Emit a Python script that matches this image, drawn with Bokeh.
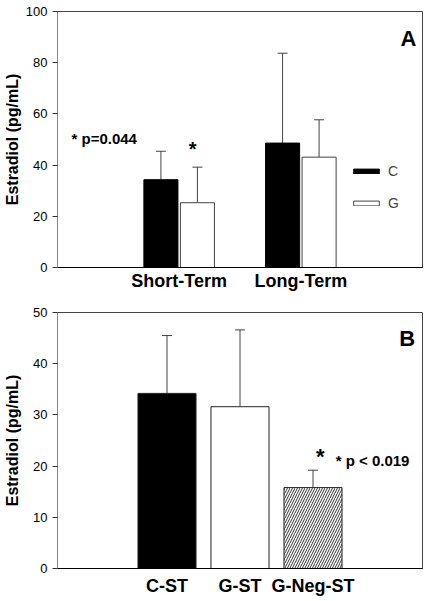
from bokeh.plotting import figure
from bokeh.models import (ColumnDataSource, FactorRange, Range1d, Whisker, TeeHead,
                          Legend, LegendItem, FixedTicker)
from bokeh.transform import dodge
from bokeh.layouts import column
from bokeh.core.properties import value
from bokeh.embed import file_html
from bokeh.resources import INLINE

FONT = "Liberation Sans"

# ---------------- data: panel A ----------------
terms = ["Short-Term", "Long-Term"]
c_mean = [34.3, 48.6]
c_sd = [11.1, 35.1]
g_mean = [25.3, 43.1]
g_sd = [13.9, 14.6]
a_ticks = [0, 20, 40, 60, 80, 100]

# ---------------- data: panel B ----------------
groups_b = ["C-ST", "G-ST", "G-Neg-ST"]
b_mean = [34.2, 31.6, 15.8]
b_sd = [11.3, 15.0, 3.4]
b_ticks = [0, 10, 20, 30, 40, 50]


def style(p, ticks, label_standoff, xlabel_standoff):
    p.outline_line_color = "#444444"
    p.outline_line_width = 1
    p.xgrid.visible = False
    p.ygrid.visible = False
    p.background_fill_color = "white"
    p.border_fill_color = "white"
    ya = p.yaxis[0]
    ya.ticker = FixedTicker(ticks=ticks)
    ya.axis_label = "Estradiol (pg/mL)"
    ya.axis_label_text_font = FONT
    ya.axis_label_text_font_style = "bold"
    ya.axis_label_text_font_size = "16px"
    ya.axis_label_text_color = "black"
    ya.axis_label_standoff = label_standoff
    ya.major_label_text_font = FONT
    ya.major_label_text_font_size = "13px"
    ya.major_label_text_color = "black"
    ya.major_label_standoff = 5
    ya.major_tick_in = 0
    ya.major_tick_out = 5
    ya.major_tick_line_color = "#333333"
    ya.minor_tick_line_color = None
    ya.axis_line_color = "#888888"
    xa = p.xaxis[0]
    xa.major_tick_line_color = None
    xa.major_tick_in = 0
    xa.major_tick_out = 0
    xa.minor_tick_line_color = None
    xa.axis_line_color = "black"
    xa.major_label_text_font = FONT
    xa.major_label_text_font_style = "bold"
    xa.major_label_text_font_size = "18px"
    xa.major_label_text_color = "black"
    xa.major_label_standoff = xlabel_standoff


# ---------------- panel A ----------------
srcA = ColumnDataSource(dict(
    x=terms,
    c=c_mean, c_up=[m + s for m, s in zip(c_mean, c_sd)],
    g=g_mean, g_up=[m + s for m, s in zip(g_mean, g_sd)],
))

pA = figure(width=429, height=298, output_backend="svg", toolbar_location=None,
            x_range=FactorRange(*terms, range_padding=0.5, range_padding_units="absolute"),
            y_range=Range1d(0, 100),
            min_border_left=57, min_border_right=7, min_border_top=11, min_border_bottom=31)
style(pA, a_ticks, 2, 3)

rc = pA.vbar(x=dodge("x", -0.15, range=pA.x_range), top="c", width=0.28, source=srcA,
             fill_color="black", line_color="black", line_width=1)
rg = pA.vbar(x=dodge("x", 0.15, range=pA.x_range), top="g", width=0.28, source=srcA,
             fill_color="white", line_color="#444444", line_width=1)

for col, up, off in (("c", "c_up", -0.15), ("g", "g_up", 0.15)):
    w = Whisker(base=dodge("x", off, range=pA.x_range), lower=col, upper=up, source=srcA,
                dimension="height", line_color="#444444", line_width=1,
                lower_head=None, upper_head=TeeHead(size=10, line_color="#444444", line_width=1))
    pA.add_layout(w)

legA = Legend(items=[LegendItem(label="C", renderers=[rc]), LegendItem(label="G", renderers=[rg])],
              location=(293, 54), glyph_width=32, glyph_height=6, label_height=20,
              spacing=12, padding=0, margin=0, border_line_alpha=0, background_fill_alpha=0,
              label_text_font=FONT, label_text_font_size="14px", label_standoff=6)
pA.add_layout(legA)

pA.text(x=[-0.385], y=[50.2], text=["* p=0.044"], text_font=value(FONT), text_font_style="bold",
        text_font_size="15px", text_align="left", text_baseline="alphabetic", text_color="black")
pA.text(x=[0.61], y=[46.3], text=["*"], text_font=value(FONT), text_font_style="bold",
        text_font_size="20px", text_align="center", text_baseline="alphabetic", text_color="black")
pA.text(x=[2.45], y=[89.5], text=["A"], text_font=value(FONT), text_font_style="bold",
        text_font_size="22px", text_align="right", text_baseline="alphabetic", text_color="black")

# ---------------- panel B ----------------
srcB = ColumnDataSource(dict(
    x=groups_b, m=b_mean, up=[m + s for m, s in zip(b_mean, b_sd)],
    fill=["black", "white", "white"],
    hatch=[" ", " ", "/"],
))

pB = figure(width=429, height=303, output_backend="svg", toolbar_location=None,
            x_range=FactorRange(*groups_b, range_padding=1, range_padding_units="absolute"),
            y_range=Range1d(0, 50),
            min_border_left=57, min_border_right=7, min_border_top=14, min_border_bottom=33)
style(pB, b_ticks, 9, 7)

pB.vbar(x="x", top="m", width=0.795, source=srcB, fill_color="fill", line_color="#222222",
        line_width=1, hatch_pattern="hatch", hatch_color="#333333", hatch_scale=5, hatch_weight=1)
wB = Whisker(base="x", lower="m", upper="up", source=srcB, dimension="height",
             line_color="#444444", line_width=1, lower_head=None,
             upper_head=TeeHead(size=10, line_color="#444444", line_width=1))
pB.add_layout(wB)

pB.text(x=[2.60], y=[21.8], text=["*"], text_font=value(FONT), text_font_style="bold",
        text_font_size="22px", text_align="center", text_baseline="alphabetic", text_color="black")
pB.text(x=[2.81], y=[21.0], text=["* p < 0.019"], text_font=value(FONT), text_font_style="bold",
        text_font_size="15px", text_align="left", text_baseline="alphabetic", text_color="black")
pB.text(x=[3.90], y=[44.9], text=["B"], text_font=value(FONT), text_font_style="bold",
        text_font_size="22px", text_align="right", text_baseline="alphabetic", text_color="black")

layout = column(pA, pB, spacing=0)
open("out.html", "w").write(file_html(layout, INLINE))
